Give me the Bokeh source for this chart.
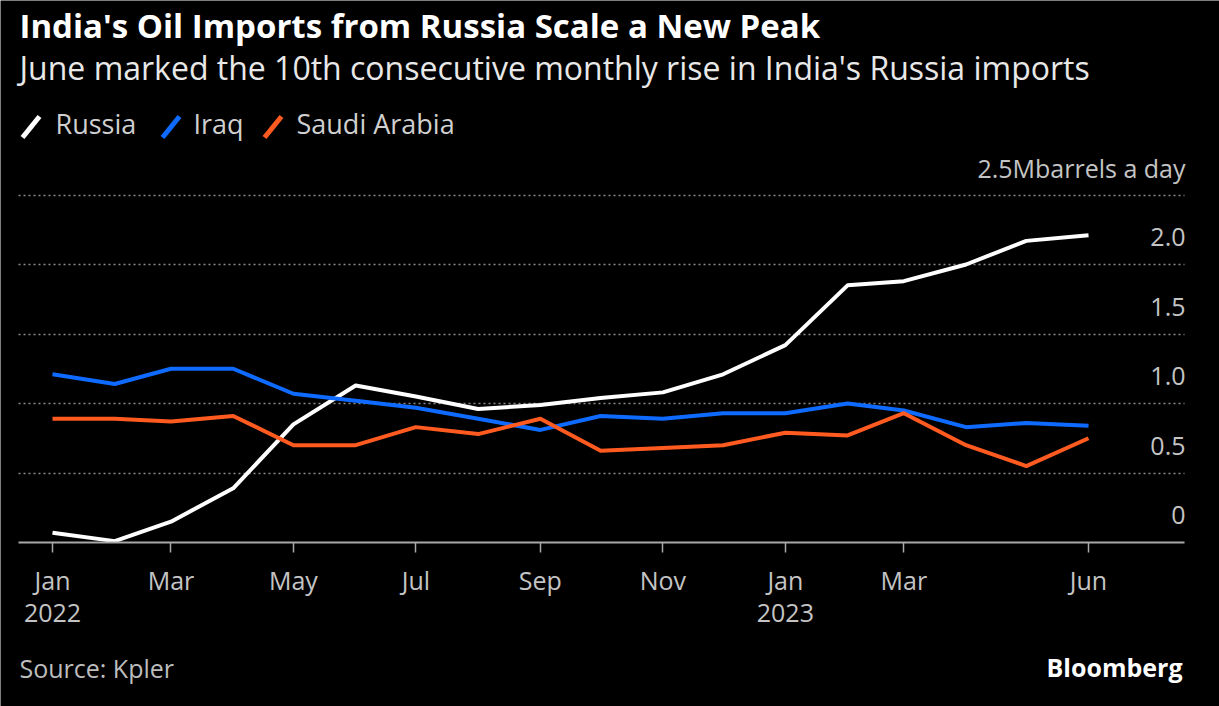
import pandas as pd
from bokeh.plotting import figure
from bokeh.models import Range1d, FixedTicker, Label, Arrow, Grid
from bokeh.embed import file_html
from bokeh.resources import INLINE

# ---------------- data ----------------
months = ["2022-01", "2022-02", "2022-03", "2022-04", "2022-05", "2022-06",
          "2022-07", "2022-08", "2022-09", "2022-10", "2022-11", "2022-12",
          "2023-01", "2023-02", "2023-03", "2023-04", "2023-05", "2023-06"]
russia = [0.07, 0.01, 0.15, 0.39, 0.85, 1.13, 1.05, 0.96, 0.99, 1.04, 1.08, 1.21,
          1.42, 1.85, 1.88, 2.00, 2.17, 2.21]
iraq = [1.21, 1.14, 1.25, 1.25, 1.07, 1.02, 0.97, 0.89, 0.81, 0.91, 0.89, 0.93,
        0.93, 1.00, 0.95, 0.83, 0.86, 0.84]
saudi_arabia = [0.89, 0.89, 0.87, 0.91, 0.70, 0.70, 0.83, 0.78, 0.89, 0.66, 0.68, 0.70,
                0.79, 0.77, 0.93, 0.70, 0.55, 0.75]

series_names = ["Russia", "Iraq", "Saudi Arabia"]
series_colors = ["#ffffff", "#0f6bff", "#ff5a1f"]

x_tick_months = ["2022-01", "2022-03", "2022-05", "2022-07", "2022-09", "2022-11",
                 "2023-01", "2023-03", "2023-06"]
x_tick_labels = ["Jan\n2022", "Mar", "May", "Jul", "Sep", "Nov", "Jan\n2023", "Mar", "Jun"]
y_ticks = [0, 0.5, 1.0, 1.5, 2.0, 2.5]
y_tick_labels = ["0", "0.5", "1.0", "1.5", "2.0", "2.5Mbarrels a day"]

title_text = "India's Oil Imports from Russia Scale a New Peak"
subtitle_text = "June marked the 10th consecutive monthly rise in India's Russia imports"
source_text = "Source: Kpler"
brand_text = "Bloomberg"

FONT = "Open Sans"


def to_ms(s):
    return pd.Timestamp(s).value / 1e6


dates = pd.to_datetime(months)
tick_ms = [to_ms(m) for m in x_tick_months]

# ---------------- layout geometry (page pixels) ----------------
W, H = 1219, 706
DAY_MS = 86400000.0
PX_PER_DAY = 2.0078
X_FIRST = 52             # page x of the first month
AXIS_Y = 542             # page y of the zero line
YSCALE = 139.0           # px per million barrels/day
PLOT_LEFT, PLOT_RIGHT = 18, 1184   # extent of grid lines / axis line
BASE_SHIFT = 0.41        # em correction for the text baseline

T0 = to_ms(months[0])


def dx(px):
    return T0 + (px - X_FIRST) / PX_PER_DAY * DAY_MS


def dy(py):
    return (AXIS_Y - py) / YSCALE


def text_label(x_px, base_px, text, size, color, bold=False, align="left"):
    return Label(x=dx(x_px), y=dy(base_px), y_offset=BASE_SHIFT * size, text=text,
                 text_font=FONT, text_font_size=f"{size}px",
                 text_font_style="bold" if bold else "normal",
                 text_color=color, text_align=align, text_baseline="alphabetic")


p = figure(width=W, height=H, output_backend="svg", toolbar_location=None,
           x_axis_type="datetime",
           x_range=Range1d(dx(0), dx(W)), y_range=Range1d(dy(H), dy(0)),
           y_axis_location=None,
           min_border_left=0, min_border_right=0,
           min_border_top=0, min_border_bottom=0)
p.background_fill_color = "#000000"
p.border_fill_color = "#000000"
p.outline_line_color = None
# drop default grids
p.center = [r for r in p.center if not isinstance(r, Grid)]

# horizontal dotted grid
grid = Grid(dimension=1, ticker=FixedTicker(ticks=y_ticks[1:]),
            cross_bounds=(dx(PLOT_LEFT), dx(PLOT_RIGHT)))
grid.grid_line_color = "#8a8a8a"
grid.grid_line_dash = "2 3"
grid.grid_line_width = 1.5
p.add_layout(grid)

# x axis, pinned at the zero line
xa = p.xaxis[0]
xa.fixed_location = 0
xa.bounds = (dx(PLOT_LEFT), dx(PLOT_RIGHT))
xa.ticker = FixedTicker(ticks=tick_ms)
xa.major_label_overrides = {t: lab for t, lab in zip(tick_ms, x_tick_labels)}
xa.axis_line_color = "#a8a8a8"
xa.axis_line_width = 2
xa.major_tick_line_color = "#a8a8a8"
xa.major_tick_line_width = 1.5
xa.major_tick_out = 10
xa.major_tick_in = 0
xa.minor_tick_line_color = None
xa.major_label_standoff = 10
xa.major_label_text_font = FONT
xa.major_label_text_font_size = "25px"
xa.major_label_text_color = "#c4c4c4"
xa.major_label_text_line_height = 0.95

# series lines
for vals, col in zip([russia, iraq, saudi_arabia], series_colors):
    p.line(dates, vals, line_color=col, line_width=4, line_join="round")

# y tick labels (inside the plot, above their grid lines)
for v, lab in zip(y_ticks, y_tick_labels):
    p.add_layout(Label(x=dx(1185), y=v, y_offset=17 + BASE_SHIFT * 25, text=lab,
                       text_align="right", text_baseline="alphabetic",
                       text_font=FONT, text_font_size="25px", text_color="#c4c4c4"))

# titles
p.add_layout(text_label(19, 39, title_text, 33, "#ffffff", bold=True))
p.add_layout(text_label(19, 80.5, subtitle_text, 32, "#e8e8e8"))

# legend
legend_slash_x = [22, 162, 264]
legend_text_x = [55, 193, 296]
for name, col, sx, tx in zip(series_names, series_colors, legend_slash_x, legend_text_x):
    p.add_layout(Arrow(end=None, x_start=dx(sx), y_start=dy(137), x_end=dx(sx + 17),
                       y_end=dy(116), line_color=col, line_width=5))
    p.add_layout(text_label(tx, 134.5, name, 27, "#d0d0d0"))

# footer
p.add_layout(text_label(19, 678, source_text, 25, "#bdbdbd"))
p.add_layout(text_label(1182, 677, brand_text, 25, "#ffffff", bold=True, align="right"))

html = file_html(p, INLINE)
html = html.replace("<body>", '<body style="background-color:#000000;">', 1)
open("out.html", "w").write(html)
